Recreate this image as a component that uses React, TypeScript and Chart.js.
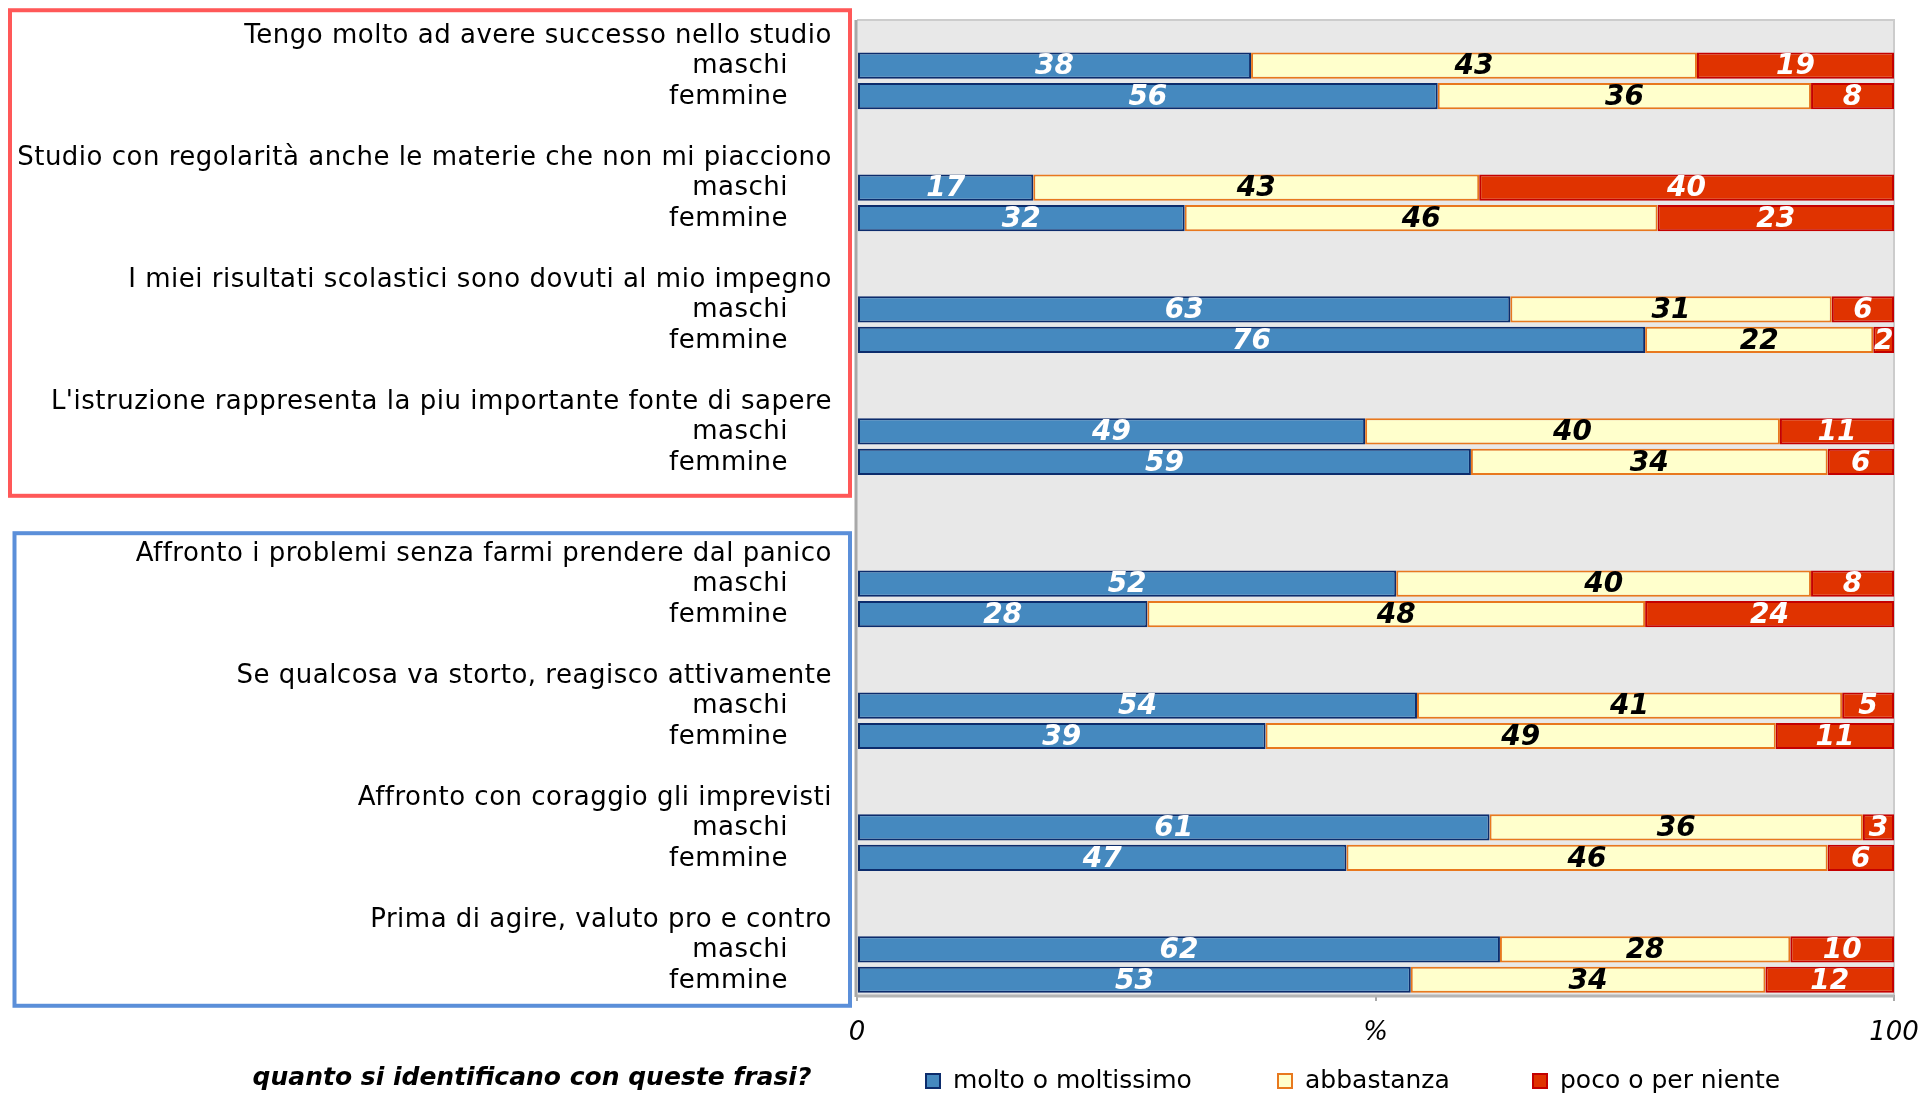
import React, { useEffect, useRef } from 'react';
import { Chart, registerables } from 'chart.js';

Chart.register(...registerables);

// ---- data ----
const statements = [
  'Tengo molto ad avere successo nello studio',
  'Studio con regolarità anche le materie che non mi piacciono',
  'I miei risultati scolastici sono dovuti al mio impegno',
  "L'istruzione rappresenta la piu importante fonte di sapere",
  'Affronto i problemi senza farmi prendere dal panico',
  'Se qualcosa va storto, reagisco attivamente',
  'Affronto con coraggio gli imprevisti',
  'Prima di agire, valuto pro e contro',
];
const genderLabels = ['maschi', 'femmine'];
const seriesNames = ['molto o moltissimo', 'abbastanza', 'poco o per niente'];

const moltoMaschi = [38, 17, 63, 49, 52, 54, 61, 62];
const moltoFemmine = [56, 31.6, 76, 59.2, 28, 39.4, 47.2, 53.4];
const abbastanzaMaschi = [43, 43, 31, 40, 40, 41, 36, 28];
const abbastanzaFemmine = [36, 45.6, 22, 34.4, 48, 49.2, 46.4, 34.2];
const pocoMaschi = [19, 40, 6, 11, 8, 5, 3, 10];
const pocoFemmine = [8, 22.8, 2, 6.4, 24, 11.4, 6.4, 12.4];

const xTickValues = [0, 50, 100];
const xTickLabels = ['0', '%', '100'];

const questionText = 'quanto si identificano con queste frasi?';

// ---- styles ----
const fills = ['#4589BF', '#FFFFCC', '#E03300'];
const borders = ['#0C2C6C', '#E8781E', '#C40000'];
const FONT = '"DejaVu Sans", Verdana, sans-serif';

type Slot = { kind: 'title' | 'm' | 'f' | 'blank'; g: number };
const slots: Slot[] = [];
statements.forEach((_, g) => {
  if (g === 4) slots.push({ kind: 'blank', g });
  slots.push({ kind: 'title', g });
  slots.push({ kind: 'm', g });
  slots.push({ kind: 'f', g });
  if (g < statements.length - 1) slots.push({ kind: 'blank', g });
});

const seriesData = [
  [moltoMaschi, moltoFemmine],
  [abbastanzaMaschi, abbastanzaFemmine],
  [pocoMaschi, pocoFemmine],
];

const slotLabels = slots.map((s) =>
  s.kind === 'title' ? statements[s.g] : s.kind === 'm' ? genderLabels[0] : s.kind === 'f' ? genderLabels[1] : ''
);

const decorPlugin = {
  id: 'decor',
  beforeDraw(chart: any) {
    const { ctx, chartArea: a } = chart;
    ctx.save();
    ctx.fillStyle = '#E8E8E8';
    ctx.fillRect(a.left, a.top, a.right - a.left, a.bottom - a.top);
    ctx.restore();
  },
  beforeDatasetsDraw(chart: any) {
    const { ctx, chartArea: a } = chart;
    ctx.save();
    ctx.strokeStyle = '#CCCCCC';
    ctx.lineWidth = 2;
    ctx.beginPath();
    ctx.moveTo(a.left, a.top);
    ctx.lineTo(a.right, a.top);
    ctx.lineTo(a.right, a.bottom);
    ctx.stroke();
    ctx.strokeStyle = '#B4B4B4';
    ctx.lineWidth = 3;
    ctx.beginPath();
    ctx.moveTo(a.left - 1, a.bottom + 1);
    ctx.lineTo(a.right, a.bottom + 1);
    ctx.stroke();
    ctx.strokeStyle = '#A8A8A8';
    ctx.beginPath();
    ctx.moveTo(a.left - 1, a.top);
    ctx.lineTo(a.left - 1, a.bottom + 2);
    ctx.stroke();
    ctx.restore();
  },
  afterDatasetsDraw(chart: any) {
    const { ctx, chartArea: a } = chart;
    ctx.save();
    ctx.beginPath();
    ctx.rect(a.left, a.top, a.right - a.left, a.bottom - a.top);
    ctx.clip();
    ctx.font = `italic bold 28px ${FONT}`;
    ctx.textAlign = 'center';
    ctx.textBaseline = 'middle';
    chart.data.datasets.forEach((ds: any, di: number) => {
      const meta = chart.getDatasetMeta(di);
      meta.data.forEach((el: any, i: number) => {
        const v = ds.data[i];
        if (v == null) return;
        const p = el.getProps(['x', 'y', 'base'], true);
        ctx.fillStyle = di === 1 ? '#000000' : '#FFFFFF';
        ctx.fillText(String(Math.round(v)), (p.x + p.base) / 2, p.y + 1.5);
      });
    });
    ctx.restore();
  },
  afterDraw(chart: any) {
    const { ctx, chartArea: a } = chart;
    const ys = chart.scales.y;
    ctx.save();
    // group boxes
    const yc = (i: number) => ys.getPixelForValue(i);
    ctx.lineWidth = 4;
    ctx.strokeStyle = '#FF5858';
    ctx.strokeRect(10, yc(0) - 25, a.left - 7 - 10, yc(14) + 34 - (yc(0) - 25));
    ctx.strokeStyle = '#5B8FD9';
    ctx.strokeRect(14.5, yc(17) - 20, a.left - 7 - 14.5, yc(31) + 26 - (yc(17) - 20));

    // row labels
    ctx.fillStyle = '#000000';
    ctx.font = `26px ${FONT}`;
    (ctx as any).letterSpacing = '0.5px';
    ctx.textAlign = 'right';
    ctx.textBaseline = 'middle';
    slots.forEach((s, i) => {
      const y = yc(i) + 1;
      if (s.kind === 'title') ctx.fillText(slotLabels[i], a.left - 25, y);
      else if (s.kind === 'm' || s.kind === 'f') ctx.fillText(slotLabels[i], a.left - 69, y);
    });
    (ctx as any).letterSpacing = '0px';

    // question text
    ctx.font = `italic bold 25px ${FONT}`;
    ctx.textAlign = 'center';
    ctx.fillText(questionText, 532, 1078);

    // legend
    const boxX = [925, 1277, 1532];
    ctx.font = `25px ${FONT}`;
    ctx.textAlign = 'left';
    chart.data.datasets.forEach((ds: any, di: number) => {
      const x = boxX[di];
      ctx.fillStyle = ds.backgroundColor;
      ctx.fillRect(x, 1073, 16, 16);
      ctx.strokeStyle = ds.borderColor;
      ctx.lineWidth = 2;
      ctx.strokeRect(x + 1, 1074, 14, 14);
      ctx.fillStyle = '#000000';
      ctx.fillText(ds.label, x + 28, 1081);
    });
    ctx.restore();
  },
};

export default function App() {
  const ref = useRef<HTMLCanvasElement>(null);
  useEffect(() => {
    const canvas = ref.current!;
    const chart = new Chart(canvas, {
      type: 'bar',
      data: {
        labels: slotLabels,
        datasets: seriesNames.map((name, di) => ({
          label: name,
          data: slots.map((s) =>
            s.kind === 'm' ? seriesData[di][0][s.g] : s.kind === 'f' ? seriesData[di][1][s.g] : null
          ),
          backgroundColor: fills[di],
          borderColor: borders[di],
          borderWidth: 2,
          borderSkipped: false,
          barPercentage: 0.86,
          categoryPercentage: 1,
        })),
      },
      options: {
        indexAxis: 'y',
        responsive: false,
        animation: false,
        devicePixelRatio: 1,
        layout: { padding: { left: 857, right: 29, top: 20, bottom: 36 } },
        plugins: { legend: { display: false }, tooltip: { enabled: false } },
        scales: {
          x: {
            stacked: true,
            min: 0,
            max: 100,
            ticks: {
              stepSize: 50,
              padding: 17,
              color: '#000000',
              maxRotation: 0,
              autoSkip: false,
              font: { family: FONT, size: 26, style: 'italic' },
              callback: (v: any) => {
                const k = xTickValues.indexOf(Number(v));
                return k >= 0 ? xTickLabels[k] : '';
              },
            },
            grid: { display: true, drawOnChartArea: false, drawTicks: true, tickLength: 6, color: '#A8A8A8', lineWidth: 2 },
            border: { display: false },
            afterFit: (s: any) => {
              s.height = 62;
              s.paddingLeft = 0;
              s.paddingRight = 0;
            },
          },
          y: { stacked: true, display: false },
        },
      } as any,
      plugins: [decorPlugin],
    });
    return () => chart.destroy();
  }, []);
  return (
    <div style={{ position: 'absolute', left: 0, top: 0, width: 1923, height: 1093, background: '#ffffff' }}>
      <canvas ref={ref} width={1923} height={1093} style={{ width: 1923, height: 1093, display: 'block' }} />
    </div>
  );
}
